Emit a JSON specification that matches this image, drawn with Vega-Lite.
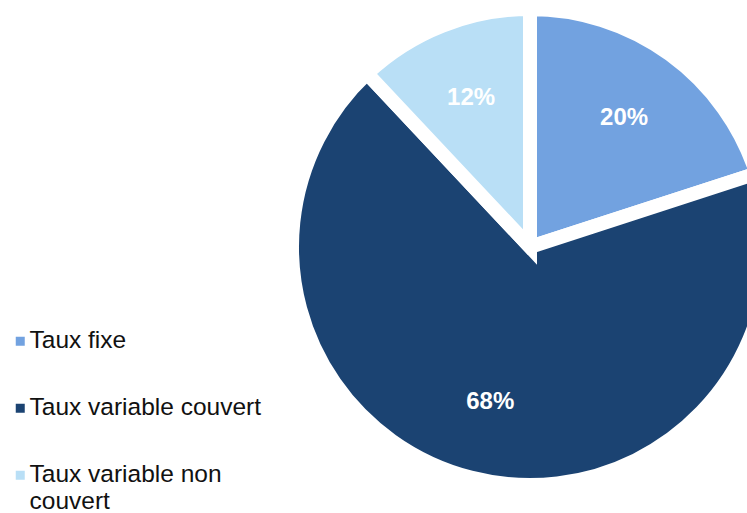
{
  "$schema": "https://vega.github.io/schema/vega-lite/v6.json",
  "width": 460,
  "height": 460,
  "autosize": {"type": "none"},
  "padding": {"left": 300, "top": 17, "right": 0, "bottom": 36},
  "background": "white",
  "data": {
    "values": [
      {"categorie": "Taux fixe", "part": 20, "etiquette": "20%"},
      {"categorie": "Taux variable couvert", "part": 68, "etiquette": "68%"},
      {"categorie": "Taux variable non couvert", "part": 12, "etiquette": "12%"}
    ]
  },
  "encoding": {
    "theta": {"field": "part", "type": "quantitative", "stack": true},
    "order": {"field": "categorie", "sort": "ascending"}
  },
  "layer": [
    {
      "mark": {"type": "arc", "outerRadius": 238, "stroke": "white", "strokeWidth": 14},
      "encoding": {
        "color": {
          "field": "categorie",
          "type": "nominal",
          "scale": {
            "domain": ["Taux fixe", "Taux variable couvert", "Taux variable non couvert"],
            "range": ["#72a2e0", "#1b4372", "#b9dff6"]
          },
          "legend": {
            "title": null,
            "orient": "none",
            "legendX": -292,
            "legendY": 312,
            "symbolType": "square",
            "symbolSize": 81,
            "symbolStrokeWidth": 0,
            "labelFont": "Liberation Sans",
            "labelFontSize": 24.5,
            "labelColor": "#111111",
            "labelLimit": 300,
            "labelOffset": -3,
            "rowPadding": 42,
            "labelExpr": "datum.label == 'Taux variable non couvert' ? ['Taux variable non', 'couvert'] : datum.label"
          }
        }
      }
    },
    {
      "mark": {"type": "text", "radius": 160, "font": "Liberation Sans", "fontWeight": "bold", "fontSize": 24, "fill": "white"},
      "encoding": {
        "text": {"field": "etiquette", "type": "nominal"}
      }
    }
  ]
}
